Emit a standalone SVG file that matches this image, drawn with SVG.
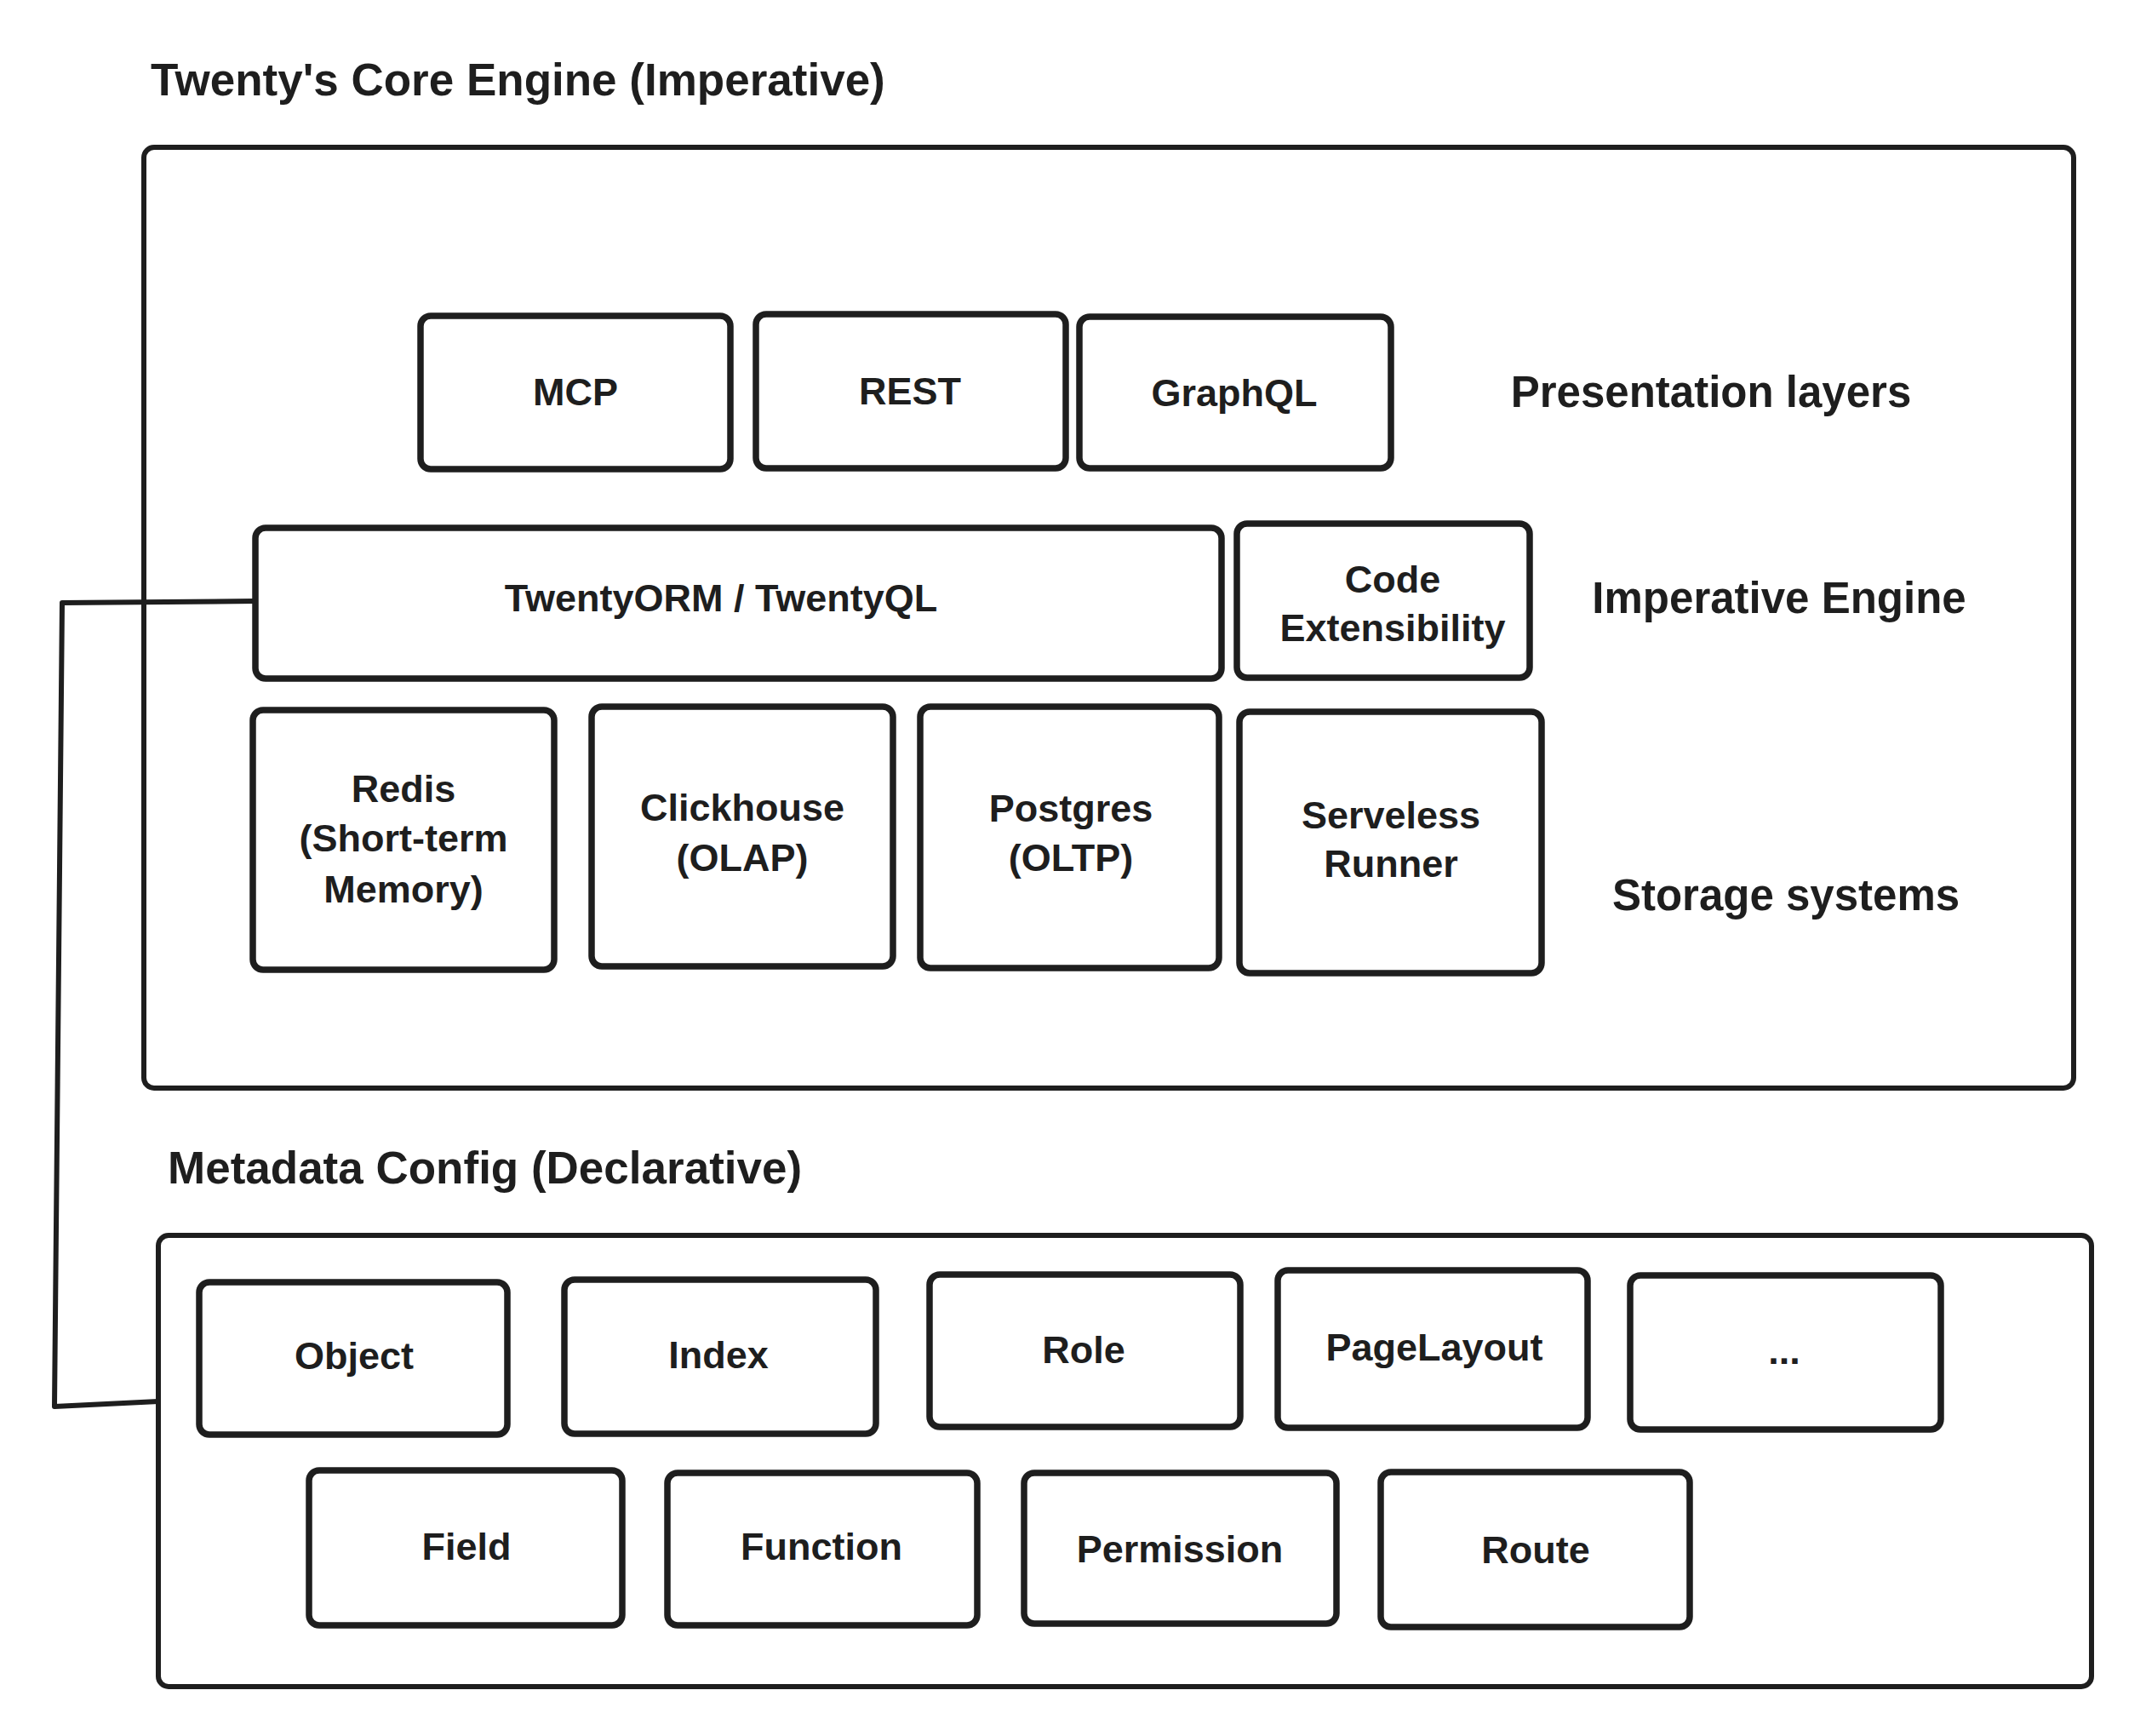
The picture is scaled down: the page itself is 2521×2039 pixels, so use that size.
<svg xmlns="http://www.w3.org/2000/svg" width="2521" height="2039" viewBox="0 0 2521 2039">
<style>
.bg{fill:#ffffff}
.frame{fill:none;stroke:#1e1e1e;stroke-width:6;stroke-linejoin:round}
.box{fill:#ffffff;stroke:#1e1e1e;stroke-width:7.5;stroke-linejoin:round}
.conn{fill:none;stroke:#1e1e1e;stroke-width:6;stroke-linejoin:round;stroke-linecap:round}
text{font-family:"Liberation Sans",Arial,sans-serif;font-weight:bold;fill:#1e1e1e}
.lbl{font-size:45px;text-anchor:middle}
.side{font-size:51px;text-anchor:middle}
.title{font-size:53px;text-anchor:start}
</style>
<rect class="bg" x="0" y="0" width="2521" height="2039"/>

<g id="connectors">
<path class="conn" d="M 300 706 L 73 708 L 64 1652 L 186 1646"/>
</g>

<g id="core-engine">
<text class="title" x="177" y="112">Twenty's Core Engine (Imperative)</text>
<rect class="frame" x="169" y="173" width="2267" height="1105" rx="12"/>
</g>

<g id="metadata-config">
<text class="title" x="197" y="1390">Metadata Config (Declarative)</text>
<rect class="frame" x="186" y="1451" width="2271" height="530" rx="12"/>
</g>

<g id="mcp"><rect class="box" x="494" y="371" width="364" height="180" rx="12"/><text class="lbl" x="676" y="476">MCP</text></g>
<g id="rest"><rect class="box" x="888" y="369" width="364" height="181" rx="12"/><text class="lbl" x="1069" y="475">REST</text></g>
<g id="graphql"><rect class="box" x="1268" y="372" width="366" height="178" rx="12"/><text class="lbl" x="1450" y="477">GraphQL</text></g>
<g id="presentation-layers"><text class="side" x="2010" y="478">Presentation layers</text></g>

<g id="twentyorm"><rect class="box" x="300" y="620" width="1135" height="177" rx="12"/><text class="lbl" x="847" y="718">TwentyORM / TwentyQL</text></g>
<g id="code-extensibility"><rect class="box" x="1453" y="615" width="344" height="181" rx="12"/><text class="lbl" x="1636" y="696">Code</text><text class="lbl" x="1636" y="753">Extensibility</text></g>
<g id="imperative-engine"><text class="side" x="2090" y="720">Imperative Engine</text></g>

<g id="redis"><rect class="box" x="297" y="834" width="354" height="305" rx="12"/><text class="lbl" x="474" y="942">Redis</text><text class="lbl" x="474" y="1000">(Short-term</text><text class="lbl" x="474" y="1060">Memory)</text></g>
<g id="clickhouse"><rect class="box" x="695" y="830" width="354" height="305" rx="12"/><text class="lbl" x="872" y="964">Clickhouse</text><text class="lbl" x="872" y="1023">(OLAP)</text></g>
<g id="postgres"><rect class="box" x="1081" y="830" width="351" height="307" rx="12"/><text class="lbl" x="1258" y="965">Postgres</text><text class="lbl" x="1258" y="1023">(OLTP)</text></g>
<g id="serveless-runner"><rect class="box" x="1456" y="836" width="355" height="307" rx="12"/><text class="lbl" x="1634" y="973">Serveless</text><text class="lbl" x="1634" y="1030">Runner</text></g>
<g id="storage-systems"><text class="side" x="2098" y="1069">Storage systems</text></g>

<g id="object"><rect class="box" x="234" y="1506" width="362" height="179" rx="12"/><text class="lbl" x="416" y="1608">Object</text></g>
<g id="index"><rect class="box" x="663" y="1503" width="366" height="181" rx="12"/><text class="lbl" x="844" y="1607">Index</text></g>
<g id="role"><rect class="box" x="1092" y="1497" width="365" height="179" rx="12"/><text class="lbl" x="1273" y="1601">Role</text></g>
<g id="pagelayout"><rect class="box" x="1501" y="1492" width="364" height="185" rx="12"/><text class="lbl" x="1685" y="1598">PageLayout</text></g>
<g id="more"><rect class="box" x="1915" y="1498" width="365" height="181" rx="12"/><text class="lbl" x="2096" y="1602">...</text></g>

<g id="field"><rect class="box" x="363" y="1727" width="368" height="182" rx="12"/><text class="lbl" x="548" y="1832">Field</text></g>
<g id="function"><rect class="box" x="784" y="1730" width="364" height="179" rx="12"/><text class="lbl" x="965" y="1832">Function</text></g>
<g id="permission"><rect class="box" x="1203" y="1730" width="367" height="177" rx="12"/><text class="lbl" x="1386" y="1835">Permission</text></g>
<g id="route"><rect class="box" x="1622" y="1729" width="363" height="182" rx="12"/><text class="lbl" x="1804" y="1836">Route</text></g>
</svg>
